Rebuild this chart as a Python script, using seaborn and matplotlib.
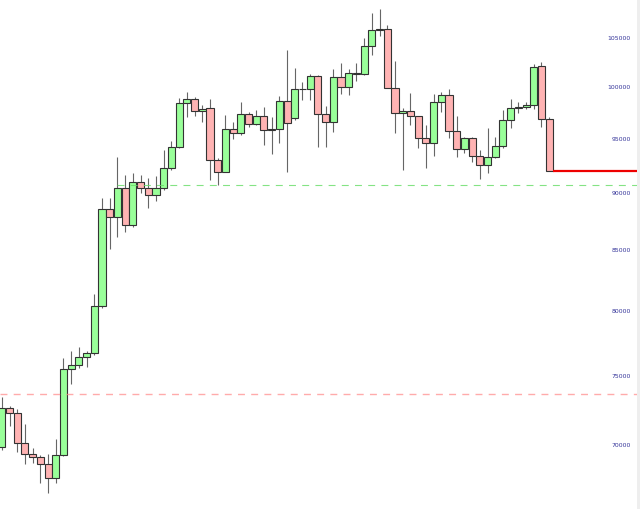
import numpy as np
import pandas as pd
import seaborn as sns
import matplotlib
matplotlib.use('Agg')
import matplotlib.pyplot as plt
from matplotlib.ticker import FixedLocator, FixedFormatter, NullLocator

opens = [69840, 72610, 72250, 70120, 69380, 69190, 68670, 67720, 69290, 75540,
         75790, 76450, 76710, 80410, 88600, 87900, 90480, 87170, 90960, 90480,
         89790, 90420, 92240, 94250, 98420, 98840, 97690, 97930, 93010, 91930,
         95900, 95580, 97370, 96410, 97150, 95830, 95930, 98670, 96960, 99800,
         99860, 101140, 97370, 96630, 101060, 100000, 101310, 101330, 104200, 105930,
         106010, 99960, 97440, 97620, 97150, 95040, 94570, 98570, 99190, 95740,
         94080, 95040, 93410, 92550, 93320, 94270, 96790, 97990, 98090, 98220,
         102150, 96860]
closes = [72610, 72250, 70120, 69380, 69190, 68670, 67720, 69290, 75540, 75790,
          76450, 76710, 80410, 88600, 87900, 90480, 87170, 90960, 90480, 89790,
          90420, 92240, 94250, 98420, 98840, 97690, 97860, 93010, 91930, 95900,
          95580, 97370, 96410, 97150, 95830, 95960, 98670, 96500, 99800, 99860,
          101140, 97370, 96630, 101060, 100000, 101390, 101400, 104200, 105930, 106010,
          99960, 97440, 97620, 97150, 95040, 94570, 98570, 99190, 95740, 94080,
          95040, 93410, 92550, 93320, 94270, 96790, 97990, 98090, 98220, 102020,
          96860, 91990]
highs = [73460, 72780, 72560, 71480, 69800, 69310, 69380, 70450, 76370, 76860,
         77170, 76880, 81380, 89520, 89520, 93320, 91630, 91780, 91630, 91330,
         91570, 93940, 94790, 98910, 99500, 99040, 98250, 98840, 93200, 97280,
         96630, 98570, 97570, 97760, 98030, 97080, 99110, 103790, 101910, 100480,
         101310, 101240, 98120, 101820, 102420, 101810, 102470, 105010, 107660, 108120,
         106380, 102660, 97990, 99400, 97180, 96310, 99290, 99580, 99800, 97180,
         95170, 95170, 93940, 96000, 95170, 97760, 98810, 98570, 98570, 102350,
         102580, 97110]
lows = [69650, 71340, 69520, 68690, 68760, 67400, 66710, 67380, 69240, 74370,
        75570, 75690, 76550, 80230, 85090, 86160, 86590, 87030, 89970, 88640,
        89310, 90270, 92090, 94100, 97110, 97180, 96630, 91170, 90720, 91900,
        94980, 95360, 96120, 96310, 94410, 93570, 94600, 91930, 96790, 98740,
        98740, 94250, 94250, 95670, 99340, 99190, 100600, 101240, 103270, 105250,
        99930, 95520, 92090, 96310, 94100, 92270, 93380, 97570, 95040, 93260,
        93630, 92850, 91240, 91840, 93200, 94130, 96000, 97440, 97860, 97830,
        96090, 91990]

support_level = 90690
lower_level = 73650
last_price = closes[-1]

tick_values = [70000, 75000, 80000, 85000, 90000, 95000, 100000, 105000]
tick_labels = [str(v) for v in tick_values]

df = pd.DataFrame({'open': opens, 'high': highs, 'low': lows, 'close': closes})
df['x'] = np.arange(len(df))
df['up'] = df['close'] >= df['open']

sns.set_style('white')
plt.rcParams['lines.scale_dashes'] = False

fig = plt.figure(figsize=(6.4, 5.09), dpi=100, facecolor='#eeeeee')
ax = fig.add_axes([0, 0, 637 / 640, 1])
ax.set_facecolor('white')
ax.set_yscale('log')

xmin, xmax = -0.233, 82.39

# wicks then bodies
ax.vlines(df['x'], df['low'], df['high'], color='#666666', lw=0.8, zorder=1)
body_colors = np.where(df['up'], '#99ff99', '#ffb3b3')
ax.bar(df['x'], (df['close'] - df['open']).abs(),
       bottom=df[['open', 'close']].min(axis=1), width=0.92,
       color=body_colors, edgecolor='#333333', linewidth=0.8, zorder=2)

ax.hlines(support_level, 14.9, xmax, colors='#66dd66', linestyles=(0, (5, 4.5)),
          lw=0.8, alpha=0.8, zorder=3)
ax.hlines(lower_level, xmin, xmax, colors='#ff8888', linestyles=(0, (5, 4.5)),
          lw=1.0, alpha=0.7, zorder=3)
ax.hlines(last_price, df['x'].iloc[-1] + 0.46, xmax, colors='#ee0000', lw=1.6, zorder=4)

ax.set_xlim(xmin, xmax)
ax.set_ylim(65676, 109094)
ax.set_xticks([])
ax.yaxis.tick_right()
ax.yaxis.set_major_locator(FixedLocator(tick_values))
ax.yaxis.set_major_formatter(FixedFormatter(tick_labels))
ax.yaxis.set_minor_locator(NullLocator())
ax.tick_params(axis='y', length=0, pad=-4.3, labelsize=4.4, labelcolor='#333399')
plt.setp(ax.get_yticklabels(), ha='right')
for s in ax.spines.values():
    s.set_visible(False)

fig.savefig('out.png', dpi=100, facecolor=fig.get_facecolor())
